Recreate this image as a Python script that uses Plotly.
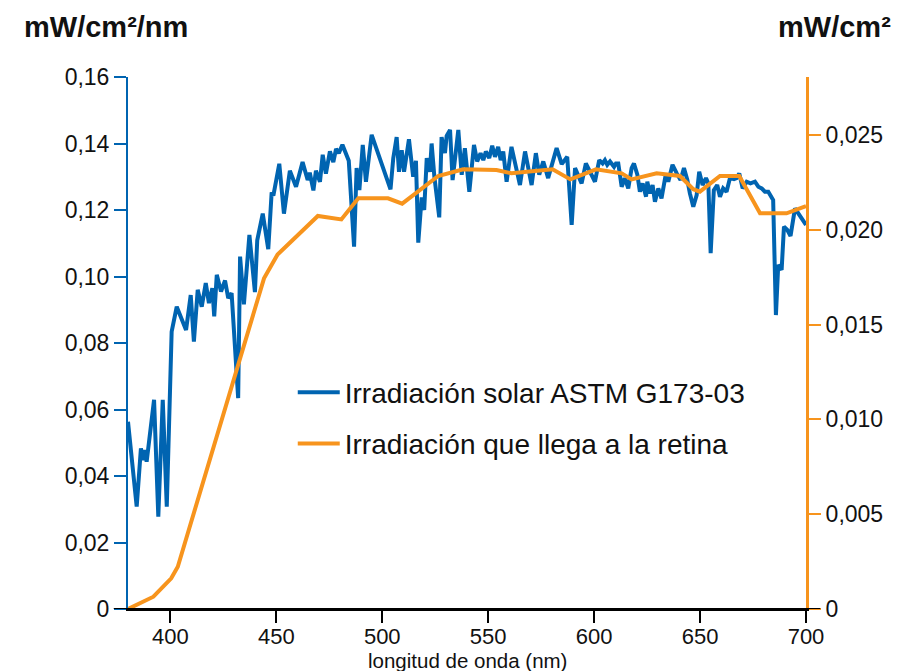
import plotly.graph_objects as go

# Solar spectral irradiance (mW/cm²/nm) vs wavelength (nm)
wl_solar = [380, 384.1, 386.1, 387.2, 388, 388.8, 392.3, 394.3, 396.4, 398.3,
            400.6, 403, 407.4, 409.6, 411.1, 412.9, 414.8, 416.7, 418.2, 419.8,
            420.7, 421.9, 423.9, 425.8, 427.3, 428.9, 432.0, 432.9, 434.7, 437.3,
            439.9, 441.0, 443.6, 446.2, 447.8, 448.6, 451.4, 453.6, 456.4, 459.3,
            462.4, 464.8, 465.8, 467.5, 468.7, 470.6, 471.9, 473.4, 475.3, 476.9,
            478.2, 479.5, 481.2, 484.2, 486.7, 487.9, 489.2, 490.8, 492.3, 495.0,
            503.9, 505.2, 506.8, 507.9, 509.2, 510.3, 512.6, 514.6, 515.9, 517.0,
            518.6, 519.8, 521.0, 522.5, 523.3, 524.6, 526.9, 528.0, 529.6, 530.4,
            532.0, 533.2, 535.9, 537.5, 539.0, 541.1, 543.3, 544.8, 546.4, 547.7,
            548.9, 550.5, 551.9, 553.2, 554.7, 555.9, 557.1, 558.7, 561.0, 562.6,
            565.0, 567.4, 569.4, 570.5, 572.5, 574.1, 576.0, 578.3, 582.3, 584.7,
            587.3, 589.4, 591.0, 592.5, 594.1, 596.1, 598.3, 600.4, 602.4, 604.0,
            605.1, 606.2, 607.5, 609.4, 610.3, 611.4, 613.0, 614.5, 616.1, 617.7,
            618.8, 620.4, 621.6, 622.9, 624.5, 625.1, 626.3, 627.6, 628.7, 630.3,
            631.8, 633.9, 635.0, 637.0, 639.0, 640.8, 642.4, 644.0, 645.2, 646.8,
            648.4, 649.6, 651.2, 652.8, 653.9, 655.0, 656.5, 658.1, 659.4, 660.9,
            662.5, 664.1, 666.0, 667.2, 668.5, 670.1, 672.0, 673.8, 675.9, 677.5,
            679.1, 680.6, 682.2, 684.5, 685.8, 686.9, 688.5, 689.6, 691.2, 692.7,
            694.8, 696.3, 700.0]
irr_solar = [0.0563, 0.0308, 0.0483, 0.0448, 0.0478, 0.0443, 0.0629, 0.0278, 0.0629, 0.0308,
             0.0834, 0.0909, 0.0839, 0.0944, 0.0804, 0.0960, 0.0909, 0.0980, 0.0920, 0.0965,
             0.0880, 0.1005, 0.0955, 0.0988, 0.0935, 0.0950, 0.0634, 0.1060, 0.0916, 0.1125,
             0.0953, 0.1109, 0.1189, 0.1082, 0.1253, 0.1243, 0.1339, 0.1189, 0.1318, 0.1270,
             0.1344, 0.1290, 0.1312, 0.1259, 0.1318, 0.1285, 0.1366, 0.1309, 0.1376, 0.1344,
             0.1384, 0.1371, 0.1396, 0.1348, 0.1090, 0.1326, 0.1260, 0.1396, 0.1285, 0.1426,
             0.1262, 0.1356, 0.1419, 0.1315, 0.1380, 0.1315, 0.1413, 0.1300, 0.1348, 0.1102,
             0.1238, 0.1200, 0.1356, 0.1315, 0.1400, 0.1300, 0.1178, 0.1419, 0.1371, 0.1423,
             0.1441, 0.1290, 0.1441, 0.1306, 0.1386, 0.1255, 0.1396, 0.1346, 0.1371, 0.1350,
             0.1376, 0.1356, 0.1393, 0.1360, 0.1390, 0.1350, 0.1376, 0.1285, 0.1390, 0.1340,
             0.1275, 0.1376, 0.1306, 0.1275, 0.1371, 0.1306, 0.1346, 0.1296, 0.1386, 0.1338,
             0.1360, 0.1155, 0.1326, 0.1300, 0.1280, 0.1340, 0.1310, 0.1285, 0.1350, 0.1340,
             0.1350, 0.1336, 0.1346, 0.1330, 0.1340, 0.1340, 0.1270, 0.1296, 0.1265, 0.1326,
             0.1340, 0.1306, 0.1255, 0.1280, 0.1240, 0.1285, 0.1250, 0.1275, 0.1225, 0.1265,
             0.1235, 0.1310, 0.1285, 0.1336, 0.1310, 0.1290, 0.1326, 0.1290, 0.1250, 0.1210,
             0.1245, 0.1315, 0.1275, 0.1296, 0.1280, 0.1070, 0.1260, 0.1275, 0.1240, 0.1265,
             0.1255, 0.1296, 0.1293, 0.1296, 0.1310, 0.1265, 0.1285, 0.1280, 0.1285, 0.1270,
             0.1265, 0.1255, 0.1255, 0.1230, 0.0884, 0.1035, 0.1020, 0.1150, 0.1140, 0.1122,
             0.1205, 0.1190, 0.1155]

# Irradiance reaching the retina (mW/cm²)
wl_retina = [380, 392, 400.4, 403.5, 444.2, 450.6, 469.6, 480.7, 488.7, 502.7,
             509.4, 526.4, 538.2, 553.9, 561.0, 569.7, 580.4, 588.8, 600.9, 613.0,
             617.7, 629.5, 640.5, 646.8, 649.9, 659.4, 668.5, 678.3, 690.8, 700]
irr_retina = [0.0, 0.00065, 0.00162, 0.00223, 0.01744, 0.01870, 0.02073, 0.02055, 0.02166, 0.02166,
              0.02138, 0.02284, 0.02319, 0.02315, 0.02298, 0.02306, 0.02319, 0.02266, 0.02319, 0.02298,
              0.02266, 0.02298, 0.02284, 0.02214, 0.02201, 0.02284, 0.02284, 0.02087, 0.02087, 0.02125]

x_ticks = [400, 450, 500, 550, 600, 650, 700]
left_ticks = [0, 0.02, 0.04, 0.06, 0.08, 0.10, 0.12, 0.14, 0.16]
left_labels = ["0", "0,02", "0,04", "0,06", "0,08", "0,10", "0,12", "0,14", "0,16"]
right_ticks = [0, 0.005, 0.010, 0.015, 0.020, 0.025]
right_labels = ["0", "0,005", "0,010", "0,015", "0,020", "0,025"]

BLUE = "#0064b1"
ORANGE = "#f7941d"
INK = "#111111"
FONT = "Liberation Sans, Arial, Helvetica, sans-serif"

fig = go.Figure()
fig.add_trace(go.Scatter(
    x=wl_solar, y=irr_solar, mode="lines", yaxis="y",
    name="Irradiación solar ASTM G173-03",
    line=dict(color=BLUE, width=4), legendgroup="a",
))
fig.add_trace(go.Scatter(
    x=wl_retina, y=irr_retina, mode="lines", yaxis="y2",
    name="Irradiación que llega a la retina",
    line=dict(color=ORANGE, width=4), legendgroup="b",
))

fig.update_layout(
    width=899, height=671,
    margin=dict(l=128, r=93, t=77, b=62),
    paper_bgcolor="white", plot_bgcolor="white",
    font=dict(family=FONT, size=23, color=INK),
    showlegend=True,
    xaxis=dict(
        range=[380, 700], tickvals=x_ticks,
        ticks="outside", ticklen=12, tickwidth=2, tickcolor="black",
        ticklabelstandoff=-5, tickfont=dict(size=22),
        showline=True, linecolor="black", linewidth=2,
        showgrid=False, zeroline=False, automargin=False,
    ),
    yaxis=dict(
        range=[0, 0.16], tickvals=left_ticks, ticktext=left_labels,
        ticks="outside", ticklen=12, tickwidth=2, tickcolor=BLUE,
        showline=True, linecolor=BLUE, linewidth=2,
        showgrid=False, zeroline=False, automargin=False,
    ),
    yaxis2=dict(
        overlaying="y", side="right",
        range=[0, 0.02806], tickvals=right_ticks, ticktext=right_labels,
        ticks="outside", ticklen=12, tickwidth=2, tickcolor=ORANGE,
        showline=True, linecolor=ORANGE, linewidth=3,
        showgrid=False, zeroline=False, automargin=False,
    ),
    legend=dict(
        x=0.243, y=0.454, xanchor="left", yanchor="top",
        bgcolor="rgba(0,0,0,0)", font=dict(size=28, color=INK),
        traceorder="grouped", tracegroupgap=12, itemwidth=42,
    ),
    shapes=[dict(
        type="line", xref="paper", yref="y",
        x0=-0.021, x1=1.021, y0=0, y1=0,
        line=dict(color="black", width=2), layer="above",
    )],
    annotations=[
        dict(text="<b>mW/cm²/nm</b>", xref="paper", yref="paper",
             x=-0.157, y=1, xanchor="left", yanchor="middle", yshift=50,
             showarrow=False, font=dict(size=29, color=INK)),
        dict(text="<b>mW/cm²</b>", xref="paper", yref="paper",
             x=1.128, y=1, xanchor="right", yanchor="middle", yshift=50,
             showarrow=False, font=dict(size=29, color=INK)),
        dict(text="longitud de onda (nm)", xref="paper", yref="paper",
             x=0.5, y=0, xanchor="center", yanchor="middle", yshift=-51,
             showarrow=False, font=dict(size=20.5, color=INK)),
    ],
)

fig.write_html("out.html")
